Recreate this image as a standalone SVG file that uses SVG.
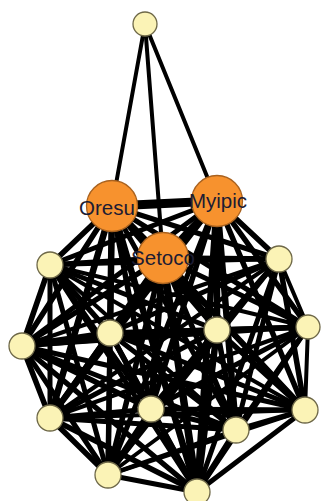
<svg xmlns="http://www.w3.org/2000/svg" width="321" height="501" viewBox="0 0 321 501">
<style>
.e line{stroke:#000;stroke-linecap:round}
.w3{stroke-width:4}.w4{stroke-width:5}.w5{stroke-width:5.5}.w6{stroke-width:6.5}.w7{stroke-width:7.5}.w8{stroke-width:9}
.s{fill:#fbf3b6;stroke:#6e6848;stroke-width:1.3}
.o{fill:#f7922e;stroke:#a9621f;stroke-width:1.3}
.t{font-family:"Liberation Sans",Arial,sans-serif;font-size:20.5px;fill:#1c1c33;text-anchor:middle}
</style>
<rect width="321" height="501" fill="#fff"/>
<g id="connectors" class="e">
<line x1="145" y1="24" x2="112" y2="206" class="w3"/>
<line x1="145" y1="24" x2="163" y2="258" class="w3"/>
<line x1="145" y1="24" x2="217" y2="201" class="w3"/>
<line x1="112" y1="206" x2="217" y2="201" class="w8"/>
<line x1="112" y1="206" x2="163" y2="258" class="w6"/>
<line x1="112" y1="206" x2="50" y2="265" class="w5"/>
<line x1="112" y1="206" x2="279" y2="259" class="w4"/>
<line x1="112" y1="206" x2="110" y2="333" class="w6"/>
<line x1="112" y1="206" x2="217" y2="330" class="w5"/>
<line x1="112" y1="206" x2="308" y2="327" class="w4"/>
<line x1="112" y1="206" x2="22" y2="346" class="w5"/>
<line x1="112" y1="206" x2="50" y2="418" class="w6"/>
<line x1="112" y1="206" x2="151" y2="409" class="w5"/>
<line x1="112" y1="206" x2="236" y2="430" class="w4"/>
<line x1="112" y1="206" x2="305" y2="410" class="w4"/>
<line x1="112" y1="206" x2="108" y2="475" class="w5"/>
<line x1="112" y1="206" x2="197" y2="492" class="w6"/>
<line x1="217" y1="201" x2="163" y2="258" class="w6"/>
<line x1="217" y1="201" x2="50" y2="265" class="w4"/>
<line x1="217" y1="201" x2="279" y2="259" class="w5"/>
<line x1="217" y1="201" x2="110" y2="333" class="w5"/>
<line x1="217" y1="201" x2="217" y2="330" class="w6"/>
<line x1="217" y1="201" x2="308" y2="327" class="w5"/>
<line x1="217" y1="201" x2="22" y2="346" class="w4"/>
<line x1="217" y1="201" x2="50" y2="418" class="w4"/>
<line x1="217" y1="201" x2="151" y2="409" class="w5"/>
<line x1="217" y1="201" x2="236" y2="430" class="w6"/>
<line x1="217" y1="201" x2="305" y2="410" class="w5"/>
<line x1="217" y1="201" x2="108" y2="475" class="w4"/>
<line x1="217" y1="201" x2="197" y2="492" class="w6"/>
<line x1="163" y1="258" x2="50" y2="265" class="w5"/>
<line x1="163" y1="258" x2="279" y2="259" class="w5"/>
<line x1="163" y1="258" x2="110" y2="333" class="w6"/>
<line x1="163" y1="258" x2="217" y2="330" class="w6"/>
<line x1="163" y1="258" x2="308" y2="327" class="w4"/>
<line x1="163" y1="258" x2="22" y2="346" class="w5"/>
<line x1="163" y1="258" x2="50" y2="418" class="w5"/>
<line x1="163" y1="258" x2="151" y2="409" class="w6"/>
<line x1="163" y1="258" x2="236" y2="430" class="w5"/>
<line x1="163" y1="258" x2="305" y2="410" class="w5"/>
<line x1="163" y1="258" x2="108" y2="475" class="w5"/>
<line x1="163" y1="258" x2="197" y2="492" class="w7"/>
<line x1="50" y1="265" x2="279" y2="259" class="w3"/>
<line x1="50" y1="265" x2="110" y2="333" class="w5"/>
<line x1="50" y1="265" x2="217" y2="330" class="w4"/>
<line x1="50" y1="265" x2="308" y2="327" class="w3"/>
<line x1="50" y1="265" x2="22" y2="346" class="w5"/>
<line x1="50" y1="265" x2="50" y2="418" class="w4"/>
<line x1="50" y1="265" x2="151" y2="409" class="w4"/>
<line x1="50" y1="265" x2="236" y2="430" class="w3"/>
<line x1="50" y1="265" x2="305" y2="410" class="w3"/>
<line x1="50" y1="265" x2="108" y2="475" class="w4"/>
<line x1="50" y1="265" x2="197" y2="492" class="w4"/>
<line x1="279" y1="259" x2="110" y2="333" class="w4"/>
<line x1="279" y1="259" x2="217" y2="330" class="w5"/>
<line x1="279" y1="259" x2="308" y2="327" class="w3"/>
<line x1="279" y1="259" x2="22" y2="346" class="w3"/>
<line x1="279" y1="259" x2="50" y2="418" class="w3"/>
<line x1="279" y1="259" x2="151" y2="409" class="w4"/>
<line x1="279" y1="259" x2="236" y2="430" class="w4"/>
<line x1="279" y1="259" x2="305" y2="410" class="w5"/>
<line x1="279" y1="259" x2="108" y2="475" class="w3"/>
<line x1="279" y1="259" x2="197" y2="492" class="w4"/>
<line x1="110" y1="333" x2="217" y2="330" class="w5"/>
<line x1="110" y1="333" x2="308" y2="327" class="w4"/>
<line x1="110" y1="333" x2="22" y2="346" class="w6"/>
<line x1="110" y1="333" x2="50" y2="418" class="w5"/>
<line x1="110" y1="333" x2="151" y2="409" class="w5"/>
<line x1="110" y1="333" x2="236" y2="430" class="w4"/>
<line x1="110" y1="333" x2="305" y2="410" class="w4"/>
<line x1="110" y1="333" x2="108" y2="475" class="w4"/>
<line x1="110" y1="333" x2="197" y2="492" class="w5"/>
<line x1="217" y1="330" x2="308" y2="327" class="w5"/>
<line x1="217" y1="330" x2="22" y2="346" class="w4"/>
<line x1="217" y1="330" x2="50" y2="418" class="w4"/>
<line x1="217" y1="330" x2="151" y2="409" class="w5"/>
<line x1="217" y1="330" x2="236" y2="430" class="w5"/>
<line x1="217" y1="330" x2="305" y2="410" class="w5"/>
<line x1="217" y1="330" x2="108" y2="475" class="w4"/>
<line x1="217" y1="330" x2="197" y2="492" class="w6"/>
<line x1="308" y1="327" x2="22" y2="346" class="w3"/>
<line x1="308" y1="327" x2="50" y2="418" class="w3"/>
<line x1="308" y1="327" x2="151" y2="409" class="w4"/>
<line x1="308" y1="327" x2="236" y2="430" class="w4"/>
<line x1="308" y1="327" x2="305" y2="410" class="w3"/>
<line x1="308" y1="327" x2="108" y2="475" class="w3"/>
<line x1="308" y1="327" x2="197" y2="492" class="w4"/>
<line x1="22" y1="346" x2="50" y2="418" class="w5"/>
<line x1="22" y1="346" x2="151" y2="409" class="w5"/>
<line x1="22" y1="346" x2="236" y2="430" class="w4"/>
<line x1="22" y1="346" x2="305" y2="410" class="w4"/>
<line x1="22" y1="346" x2="108" y2="475" class="w4"/>
<line x1="22" y1="346" x2="197" y2="492" class="w5"/>
<line x1="50" y1="418" x2="151" y2="409" class="w4"/>
<line x1="50" y1="418" x2="236" y2="430" class="w4"/>
<line x1="50" y1="418" x2="305" y2="410" class="w3"/>
<line x1="50" y1="418" x2="108" y2="475" class="w5"/>
<line x1="50" y1="418" x2="197" y2="492" class="w5"/>
<line x1="151" y1="409" x2="236" y2="430" class="w4"/>
<line x1="151" y1="409" x2="305" y2="410" class="w4"/>
<line x1="151" y1="409" x2="108" y2="475" class="w4"/>
<line x1="151" y1="409" x2="197" y2="492" class="w5"/>
<line x1="236" y1="430" x2="305" y2="410" class="w4"/>
<line x1="236" y1="430" x2="108" y2="475" class="w3"/>
<line x1="236" y1="430" x2="197" y2="492" class="w5"/>
<line x1="305" y1="410" x2="108" y2="475" class="w3"/>
<line x1="305" y1="410" x2="197" y2="492" class="w4"/>
<line x1="108" y1="475" x2="197" y2="492" class="w4"/>
</g>
<g id="node-top"><circle cx="145" cy="24" r="12" class="s"/></g>
<g id="node-a"><circle cx="50" cy="265" r="13" class="s"/></g>
<g id="node-b"><circle cx="279" cy="259" r="13" class="s"/></g>
<g id="node-c"><circle cx="110" cy="333" r="13" class="s"/></g>
<g id="node-d"><circle cx="217" cy="330" r="13" class="s"/></g>
<g id="node-e"><circle cx="308" cy="327" r="12" class="s"/></g>
<g id="node-f"><circle cx="22" cy="346" r="13" class="s"/></g>
<g id="node-g"><circle cx="50" cy="418" r="13" class="s"/></g>
<g id="node-h"><circle cx="151" cy="409" r="13" class="s"/></g>
<g id="node-i"><circle cx="236" cy="430" r="13" class="s"/></g>
<g id="node-j"><circle cx="305" cy="410" r="13" class="s"/></g>
<g id="node-k"><circle cx="108" cy="475" r="13" class="s"/></g>
<g id="node-l"><circle cx="197" cy="492" r="13" class="s"/></g>
<g id="node-oresu"><circle cx="112" cy="206" r="25.5" class="o"/><text x="107" y="215" class="t">Oresu</text></g>
<g id="node-myipic"><circle cx="217" cy="201" r="25.5" class="o"/><text x="218" y="208" class="t">Myipic</text></g>
<g id="node-setoco"><circle cx="163" cy="258" r="25.5" class="o"/><text x="163" y="265" class="t">Setoco</text></g>
</svg>
